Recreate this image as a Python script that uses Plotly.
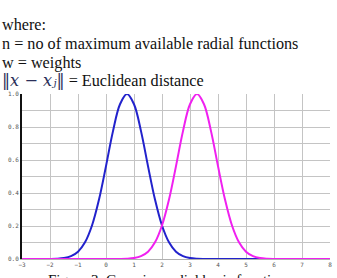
import plotly.graph_objects as go

x_vals = [-3.0, -2.75, -2.5, -2.25, -2.0, -1.75, -1.5, -1.25, -1.0, -0.75, -0.5, -0.25,
          0.0, 0.25, 0.5, 0.75, 1.0, 1.25, 1.5, 1.75, 2.0, 2.25, 2.5, 2.75,
          3.0, 3.25, 3.5, 3.75, 4.0, 4.25, 4.5, 4.75, 5.0, 5.25, 5.5, 5.75,
          6.0, 6.25, 6.5, 6.75, 7.0, 7.25, 7.5, 7.75, 8.0]
blue_vals = [0, 0, 0, 0.0001, 0.0005, 0.0017, 0.0057, 0.017, 0.044, 0.101, 0.203, 0.36,
             0.563, 0.775, 0.938, 1.0, 0.938, 0.775, 0.563, 0.36, 0.203, 0.101, 0.044, 0.017,
             0.0057, 0.0017, 0.0005, 0.0001, 0, 0, 0, 0, 0, 0, 0, 0,
             0, 0, 0, 0, 0, 0, 0, 0, 0]
magenta_vals = [0, 0, 0, 0, 0, 0, 0, 0, 0, 0, 0, 0,
                0, 0.0001, 0.0005, 0.0017, 0.0057, 0.017, 0.044, 0.101, 0.203, 0.36,
                0.563, 0.775, 0.938, 1.0, 0.938, 0.775, 0.563, 0.36, 0.203, 0.101, 0.044, 0.017,
                0.0057, 0.0017, 0.0005, 0.0001, 0, 0, 0, 0, 0, 0, 0]
x_ticks = [-3, -2, -1, 0, 1, 2, 3, 4, 5, 6, 7, 8]
x_tick_text = ["\u22123", "\u22122", "\u22121", "0", "1", "2", "3", "4", "5", "6", "7", "8"]
y_ticks = [0.0, 0.2, 0.4, 0.6, 0.8, 1.0]
y_tick_text = ["0.0", "0.2", "0.4", "0.6", "0.8", "1.0"]

text_lines = [
    "where:",
    "n = no of maximum available radial functions",
    "w = weights",
    "<span style='font-family:DejaVu Serif;color:#2b2f5a'>\u2016<i>x</i> \u2212 <i>x\u2c7c</i>\u2016</span> = Euclidean distance",
]
caption = "Figure 3. Gaussian radial basis functions"

W, H = 337, 278
L, R, T, B = 22, 5, 94, 19
ph = H - T - B

def py(p):
    return (H - B - p) / ph

fig = go.Figure()
fig.add_trace(go.Scatter(x=x_vals, y=blue_vals, mode="lines", line=dict(color="#2222cc", width=2, shape="spline"), cliponaxis=False))
fig.add_trace(go.Scatter(x=x_vals, y=magenta_vals, mode="lines", line=dict(color="#f020f0", width=2, shape="spline"), cliponaxis=False))

anns = []
ys = [25, 44, 63, 81]
for t, yy in zip(text_lines, ys):
    anns.append(dict(text=t, x=-L / (W - L - R) + 1 / (W - L - R), xref="paper", y=py(yy), yref="paper",
                     xanchor="left", yanchor="middle", showarrow=False, borderpad=0,
                     font=dict(family="Liberation Serif", size=16.2, color="#111")))
anns.append(dict(text=caption, x=(171 - L) / (W - L - R), xref="paper", y=py(271), yref="paper",
                 xanchor="center", yanchor="top", showarrow=False, borderpad=0,
                 font=dict(family="Liberation Serif", size=15, color="#111")))

fig.update_layout(
    width=W, height=H, margin=dict(l=L, r=R, t=T, b=B),
    paper_bgcolor="white", plot_bgcolor="white", showlegend=False,
    annotations=anns,
    xaxis=dict(range=[-3, 8], tickvals=x_ticks, ticktext=x_tick_text, showgrid=True, gridcolor="#c4c4c4",
               gridwidth=1, zeroline=False, showline=True, linecolor="#b0b0b0", linewidth=1,
               ticks="", tickfont=dict(family="DejaVu Sans Mono", size=6, color="#555")),
    yaxis=dict(range=[0, 1], tickvals=y_ticks, ticktext=y_tick_text, showgrid=True, gridcolor="#c4c4c4",
               gridwidth=1, zeroline=False, showline=True, linecolor="#111", linewidth=2,
               ticks="", tickfont=dict(family="DejaVu Sans Mono", size=6, color="#555"),
               minor=dict(dtick=0.1, showgrid=True, gridcolor="#c4c4c4", gridwidth=1)),
)
fig.write_html("out.html")
